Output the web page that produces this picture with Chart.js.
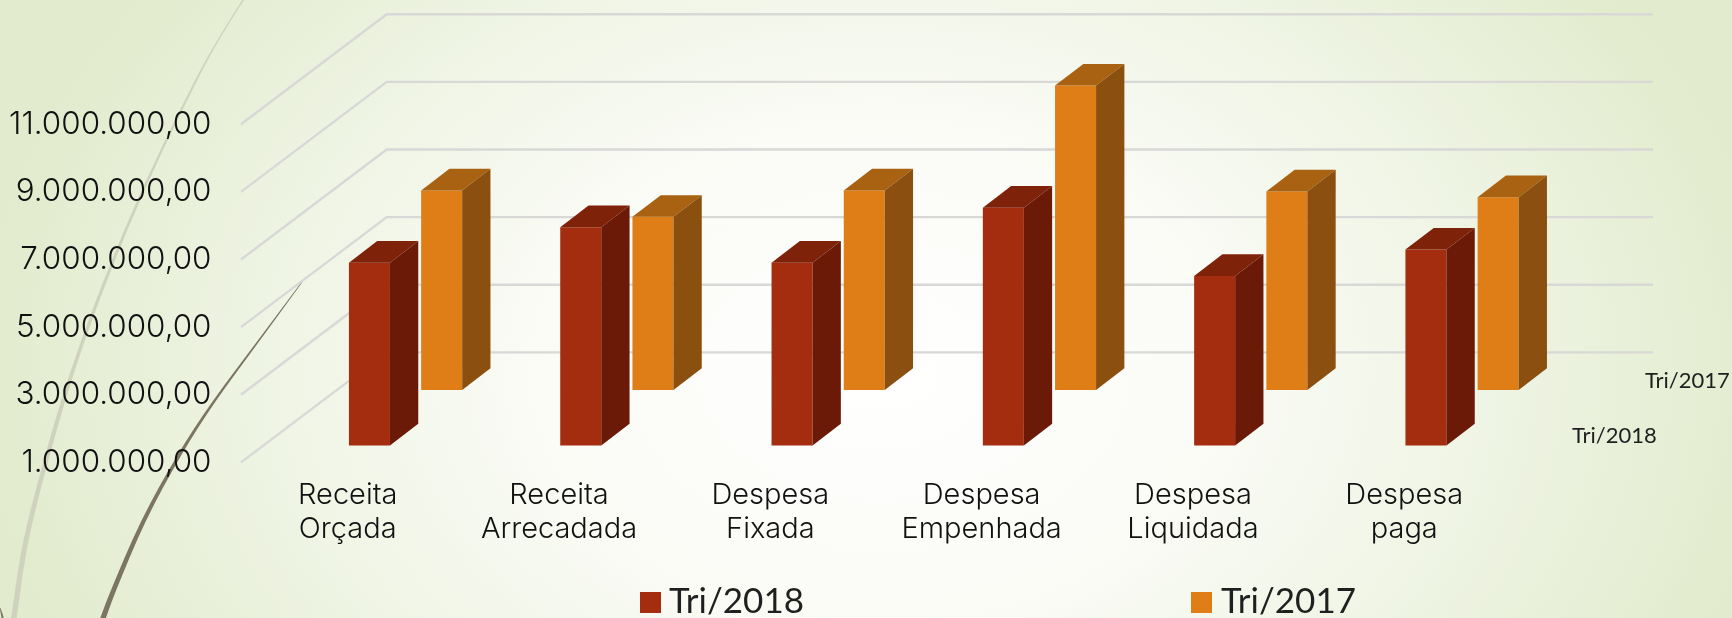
<!DOCTYPE html>
<html lang="pt-BR">
<head>
<meta charset="utf-8">
<title>Receita e despesa</title>
<script src="https://cdn.jsdelivr.net/npm/chart.js@4"></script>
<style>
  html, body { margin: 0; padding: 0; background: #f4f7ea; }
  canvas { display: block; }
</style>
</head>
<body>
<canvas id="grafico" width="1732" height="618"></canvas>
<script>
// Dados
const categorias = [
    ['Receita', 'Orçada'],
    ['Receita', 'Arrecadada'],
    ['Despesa', 'Fixada'],
    ['Despesa', 'Empenhada'],
    ['Despesa', 'Liquidada'],
    ['Despesa', 'paga']
];
const tri2018 = [6400000, 7450000, 6400000, 8030000, 6010000, 6790000];
const tri2017 = [6900000, 6120000, 6900000, 10000000, 6870000, 6700000];
const nomesSeries = ['Tri/2018', 'Tri/2017'];
const valorMinimo = 1000000;
const valorMaximo = 11000000;
const passoEixo = 2000000;

const fonte = 'Lato, "Open Sans", sans-serif';
const fonteInter = 'Inter, Lato, sans-serif';
const corTexto = '#1f1f1f';
const corGrade = '#d8d8d6';

// Geometria da "caixa" 3D
const area = { left: 299.9, right: 1567.7, top: 124.2, bottom: 462.4 };
const paredeDx = 145.7, paredeDy = 110, paredeFim = 1653;
const barraDx = 28.3, barraDy = 21.7;
const recuo2018 = 17, recuo2017 = 72.4;
const gradeInicio = 241;

const pxParaValor = (valorMaximo - valorMinimo) / (area.bottom - area.top);

const cores = [
    { frente: '#a32d0e', lado: '#6b1a08', topo: '#7e2209' },
    { frente: '#df7d17', lado: '#8b500f', topo: '#a86211' }
];

// Curvas decorativas do tema: [x, y, espessura]
const curvaClara = [[247, -6, 1.6], [213, 47, 2], [180, 112, 2.4], [143, 189, 2.8], [110, 268, 3.2],
    [83, 339, 3.6], [60, 410, 4.2], [37, 493, 4.8], [23, 552, 5.2], [14, 618, 5.6], [12, 630, 5.6]];
const curvaEscura = [[302, 282, 0.9], [260, 339, 2], [213, 402, 3], [180, 453, 3.8],
    [143, 520, 4.6], [113, 591, 5.2], [103, 618, 5.6], [99, 630, 5.6]];
const curvaCanto = [[0, 608, 0.8], [3, 618, 2.4], [4, 630, 2.4]];

function curvaFina(ctx, cor, pontos) {
    const ida = pontos.map(p => [p[0] - p[2] / 2, p[1]]);
    const volta = pontos.map(p => [p[0] + p[2] / 2, p[1]]).reverse();
    const desenhaLado = (lado) => {
        for (let i = 1; i < lado.length - 1; i++) {
            const mx = (lado[i][0] + lado[i + 1][0]) / 2;
            const my = (lado[i][1] + lado[i + 1][1]) / 2;
            ctx.quadraticCurveTo(lado[i][0], lado[i][1], mx, my);
        }
        ctx.lineTo(lado[lado.length - 1][0], lado[lado.length - 1][1]);
    };
    ctx.beginPath();
    ctx.moveTo(ida[0][0], ida[0][1]);
    desenhaLado(ida);
    ctx.lineTo(volta[0][0], volta[0][1]);
    desenhaLado(volta);
    ctx.closePath();
    ctx.fillStyle = cor;
    ctx.fill();
}

const fundoPlugin = {
    id: 'fundo',
    beforeDraw(chart) {
        const { ctx, width, height } = chart;
        ctx.save();
        ctx.fillStyle = '#e2ebcd';
        ctx.fillRect(0, 0, width, height);
        ctx.translate(880, 370);
        ctx.scale(1, 0.72);
        const g = ctx.createRadialGradient(0, 0, 0, 0, 0, 900);
        g.addColorStop(0, '#ffffff');
        g.addColorStop(0.35, '#fbfcf7');
        g.addColorStop(0.65, '#f0f5e6');
        g.addColorStop(1, '#e2ebcd');
        ctx.fillStyle = g;
        ctx.fillRect(-880, -800, 1800, 1800);
        ctx.restore();

        ctx.save();
        curvaFina(ctx, '#cfd3bd', curvaClara);
        curvaFina(ctx, '#7b7561', curvaEscura);
        curvaFina(ctx, '#7b7561', curvaCanto);
        ctx.restore();
    }
};

const grade3dPlugin = {
    id: 'grade3d',
    beforeDatasetsDraw(chart) {
        const { ctx, scales } = chart;
        ctx.save();
        ctx.strokeStyle = corGrade;
        ctx.lineWidth = 2.4;
        ctx.lineJoin = 'round';
        scales.y.ticks.forEach(t => {
            const py = scales.y.getPixelForValue(t.value);
            ctx.beginPath();
            ctx.moveTo(gradeInicio, py);
            ctx.lineTo(gradeInicio + paredeDx, py - paredeDy);
            ctx.lineTo(paredeFim, py - paredeDy);
            ctx.stroke();
        });
        ctx.restore();
    }
};

const barras3dPlugin = {
    id: 'barras3d',
    afterDatasetsDraw(chart) {
        const { ctx } = chart;
        ctx.save();
        chart.data.datasets.forEach((ds, i) => {
            chart.getDatasetMeta(i).data.forEach(bar => {
                const x0 = bar.x - bar.width / 2;
                const x1 = bar.x + bar.width / 2;
                const topo = Math.min(bar.y, bar.base);
                const base = Math.max(bar.y, bar.base);
                // tampa
                ctx.fillStyle = cores[i].topo;
                ctx.beginPath();
                ctx.moveTo(x0, topo);
                ctx.lineTo(x0 + barraDx, topo - barraDy);
                ctx.lineTo(x1 + barraDx, topo - barraDy);
                ctx.lineTo(x1, topo);
                ctx.closePath();
                ctx.fill();
                // lateral
                ctx.fillStyle = cores[i].lado;
                ctx.beginPath();
                ctx.moveTo(x1, topo);
                ctx.lineTo(x1 + barraDx, topo - barraDy);
                ctx.lineTo(x1 + barraDx, base - barraDy);
                ctx.lineTo(x1, base);
                ctx.closePath();
                ctx.fill();
            });
        });
        ctx.restore();
    }
};

const textosPlugin = {
    id: 'textos',
    afterDraw(chart) {
        const { ctx } = chart;
        ctx.save();
        ctx.fillStyle = corTexto;
        ctx.textBaseline = 'alphabetic';
        // rótulos do eixo de profundidade
        ctx.font = '22px ' + fonte;
        ctx.fillText(nomesSeries[0], 1572, 443);
        ctx.fillText(nomesSeries[1], 1645, 388);
        // legenda
        const posLegenda = [[640, 669], [1191, 1221]];
        chart.data.datasets.forEach((ds, i) => {
            ctx.fillStyle = cores[i].frente;
            ctx.fillRect(posLegenda[i][0], 592, 21, 21);
            ctx.fillStyle = corTexto;
            ctx.font = '35px ' + fonte;
            ctx.fillText(ds.label, posLegenda[i][1], 613);
        });
        ctx.restore();
    }
};

function formataValor(v) {
    return new Intl.NumberFormat('pt-BR', { minimumFractionDigits: 2, maximumFractionDigits: 2 }).format(v);
}

function eixoOculto(recuo) {
    return {
        display: false,
        min: valorMinimo - recuo * pxParaValor,
        max: valorMaximo - recuo * pxParaValor
    };
}

new Chart(document.getElementById('grafico'), {
    type: 'bar',
    data: {
        labels: categorias,
        datasets: [
            {
                label: nomesSeries[0],
                data: tri2018.map(v => [valorMinimo, v]),
                backgroundColor: cores[0].frente,
                yAxisID: 'y2018',
                clip: false
            },
            {
                label: nomesSeries[1],
                data: tri2017.map(v => [valorMinimo, v]),
                backgroundColor: cores[1].frente,
                yAxisID: 'y2017',
                clip: false
            }
        ]
    },
    options: {
        responsive: false,
        animation: false,
        events: [],
        categoryPercentage: 0.6835,
        barPercentage: 0.568,
        layout: {
            padding: { top: area.top, right: 1732 - area.right, left: 0, bottom: 0 }
        },
        plugins: {
            legend: { display: false },
            tooltip: { enabled: false },
            title: { display: false }
        },
        scales: {
            x: {
                grid: { display: false, drawTicks: false },
                border: { display: false },
                afterFit(s) { s.height = 618 - area.bottom; },
                ticks: {
                    autoSkip: false,
                    maxRotation: 0,
                    color: '#111111',
                    padding: 16,
                    labelOffset: -57.8,
                    font: { family: fonteInter, size: 29, weight: '300', lineHeight: 1.16 }
                }
            },
            y: {
                min: valorMinimo,
                max: valorMaximo,
                grid: { display: false, drawTicks: false },
                border: { display: false },
                afterFit(s) { s.width = area.left; },
                ticks: {
                    stepSize: passoEixo,
                    color: '#111111',
                    padding: 88.4,
                    font: { family: fonteInter, size: 31.4, weight: '300' },
                    callback: formataValor
                }
            },
            y2018: eixoOculto(recuo2018),
            y2017: eixoOculto(recuo2017)
        }
    },
    plugins: [fundoPlugin, grade3dPlugin, barras3dPlugin, textosPlugin]
});
</script>
</body>
</html>
